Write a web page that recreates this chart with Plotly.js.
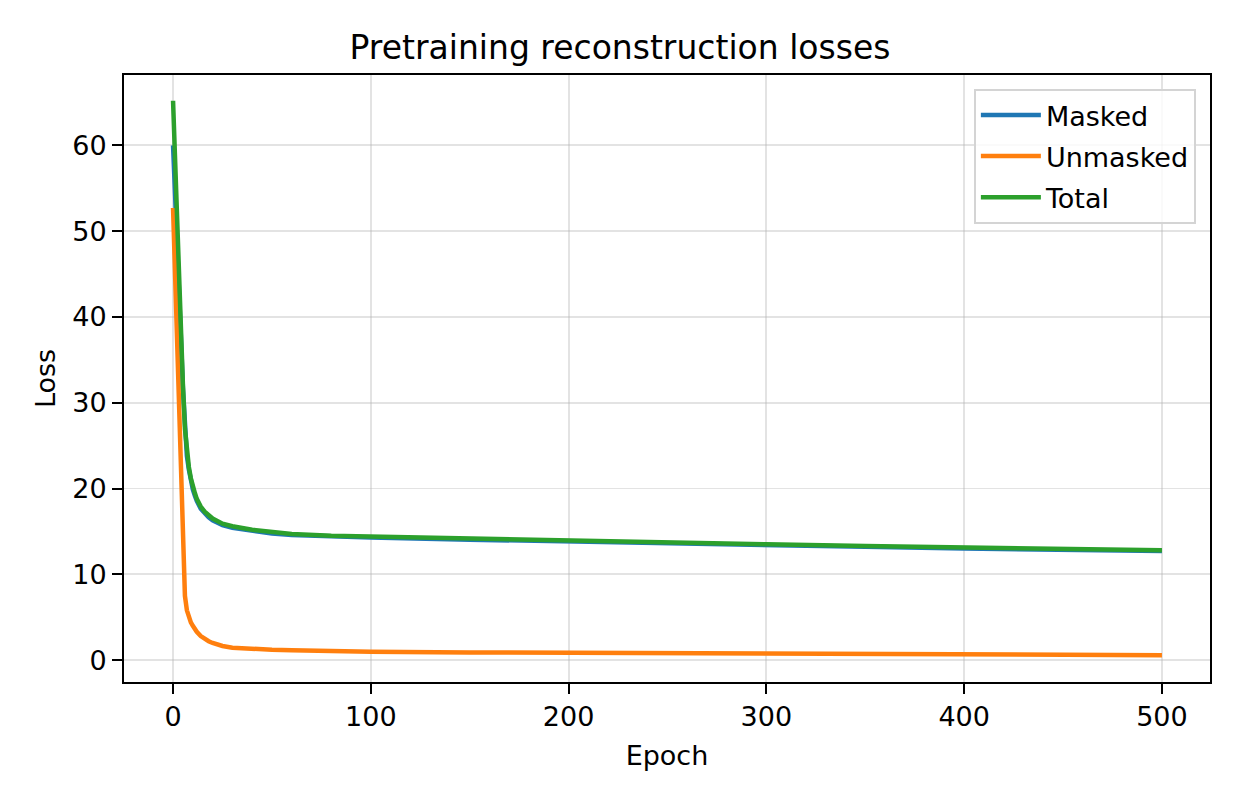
<!DOCTYPE html>
<html>
<head>
<meta charset="utf-8">
<script src="https://cdn.plot.ly/plotly-3.0.1.min.js"></script>
<style>html,body{margin:0;padding:0;background:#fff;}#chart{width:1240px;height:800px;}</style>
</head>
<body>
<div id="chart"></div>
<script>
const epochs = [0,1,2,3,4,5,6,7,8,9,10,11,12,14,16,18,20,25,30,40,50,60,80,100,150,200,250,300,350,400,450,500];
const masked = [60.0,55.0,49.5,43.5,37.5,31.7,26.8,23.8,22.2,20.9,19.9,19.2,18.55,17.65,17.05,16.65,16.3,15.72,15.42,15.03,14.75,14.57,14.38,14.28,14.04,13.8,13.6,13.4,13.2,13.0,12.83,12.72];
const unmasked = [52.7,45.0,37.0,29.0,21.0,12.0,7.5,5.8,5.0,4.4,4.0,3.6,3.3,2.8,2.45,2.2,2.0,1.65,1.45,1.28,1.2,1.15,1.05,0.98,0.9,0.85,0.8,0.75,0.72,0.68,0.62,0.58];
const total = [65.2,58.0,51.0,44.0,38.0,32.0,27.0,24.0,22.5,21.2,20.2,19.5,18.8,17.9,17.3,16.9,16.5,15.9,15.6,15.2,14.9,14.7,14.5,14.4,14.15,13.9,13.7,13.5,13.3,13.1,12.9,12.8];
const seriesNames = ["Masked","Unmasked","Total"];
const colors = ["#1f77b4","#ff7f0e","#2ca02c"];
const series = [masked, unmasked, total];

const traces = series.map((s,i)=>({
  x: epochs, y: s, name: seriesNames[i], type: "scatter", mode: "lines",
  legendgroup: "g" + i,
  line: {color: colors[i], width: 4.5}
}));

const font = "DejaVu Sans, sans-serif";
const grid = "rgba(176,176,176,0.35)";
const layout = {
  width: 1240, height: 800,
  paper_bgcolor: "#fff", plot_bgcolor: "#fff",
  margin: {l: 124, r: 30, t: 75, b: 118},
  font: {family: font, size: 27, color: "#000"},
  title: {text: "Pretraining reconstruction losses", font: {family: font, size: 33, color: "#000"}, x: 0.5, xanchor: "center", y: 0.941, yanchor: "middle"},
  xaxis: {
    range: [-24.8, 524.3], tickvals: [0,100,200,300,400,500],
    showgrid: true, gridcolor: grid, gridwidth: 1.8,
    zeroline: false, showline: true, linecolor: "#000", linewidth: 2, mirror: true,
    ticks: "outside", ticklen: 10, tickcolor: "#000", tickwidth: 2,
    tickfont: {family: font, size: 27, color: "#000"},
    title: {text: "Epoch", font: {family: font, size: 27, color: "#000"}, standoff: 15}
  },
  yaxis: {
    range: [-2.55, 68.2], tickvals: [0,10,20,30,40,50,60],
    showgrid: true, gridcolor: grid, gridwidth: 1.8,
    zeroline: false, showline: true, linecolor: "#000", linewidth: 2, mirror: true,
    ticks: "outside", ticklen: 10, tickcolor: "#000", tickwidth: 2,
    tickfont: {family: font, size: 27, color: "#000"},
    title: {text: "Loss", font: {family: font, size: 27, color: "#000"}, standoff: 9}
  },
  legend: {
    x: 0.987, y: 0.977, xanchor: "right", yanchor: "top",
    bgcolor: "rgba(255,255,255,0.8)", bordercolor: "#d4d4d4", borderwidth: 2,
    font: {family: font, size: 27, color: "#000"}, tracegroupgap: 3, itemwidth: 60
  },
  showlegend: true
};

Plotly.newPlot("chart", traces, layout, {displayModeBar: false, staticPlot: true});
</script>
</body>
</html>
